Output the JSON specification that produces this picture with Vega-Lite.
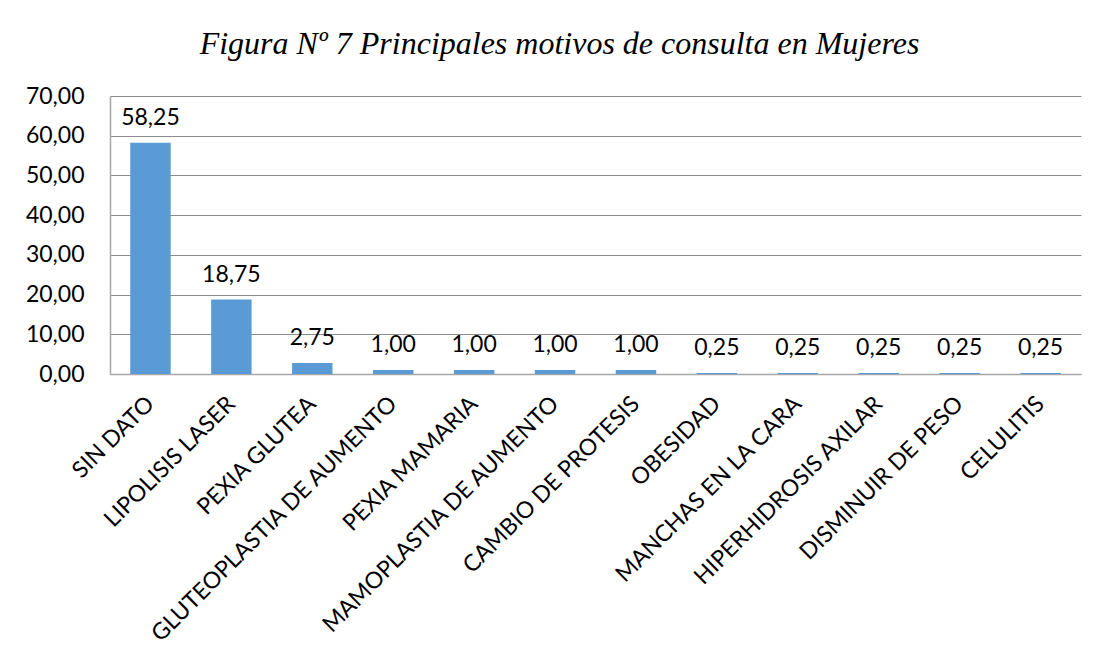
{
  "$schema": "https://vega.github.io/schema/vega-lite/v6.json",
  "width": 971,
  "height": 278,
  "autosize": {"type": "none"},
  "padding": {"left": 110, "top": 96, "right": 20, "bottom": 290},
  "background": "white",
  "config": {
    "view": {"stroke": null},
    "locale": {"number": {"decimal": ",", "thousands": ".", "grouping": [3], "currency": ["", "€"]}}
  },
  "title": {
    "text": "Figura Nº 7 Principales motivos de consulta en Mujeres",
    "font": "Liberation Serif",
    "fontStyle": "italic",
    "fontWeight": "normal",
    "fontSize": 32,
    "color": "#000000",
    "anchor": "middle",
    "dx": -36,
    "offset": 24
  },
  "data": {
    "values": [
      {"motivo": "SIN DATO", "valor": 58.25},
      {"motivo": "LIPOLISIS LASER", "valor": 18.75},
      {"motivo": "PEXIA GLUTEA", "valor": 2.75},
      {"motivo": "GLUTEOPLASTIA DE AUMENTO", "valor": 1.0},
      {"motivo": "PEXIA MAMARIA", "valor": 1.0},
      {"motivo": "MAMOPLASTIA DE AUMENTO", "valor": 1.0},
      {"motivo": "CAMBIO DE PROTESIS", "valor": 1.0},
      {"motivo": "OBESIDAD", "valor": 0.25},
      {"motivo": "MANCHAS EN LA CARA", "valor": 0.25},
      {"motivo": "HIPERHIDROSIS AXILAR", "valor": 0.25},
      {"motivo": "DISMINUIR DE PESO", "valor": 0.25},
      {"motivo": "CELULITIS", "valor": 0.25}
    ]
  },
  "encoding": {
    "x": {
      "field": "motivo",
      "type": "nominal",
      "sort": null,
      "scale": {"paddingInner": 0.5, "paddingOuter": 0.25},
      "axis": {
        "title": null,
        "labelAngle": -45,
        "labelAlign": "right",
        "labelBaseline": "middle",
        "labelFont": "Lato",
        "labelFontSize": 23,
        "labelColor": "#000000",
        "labelPadding": 26,
        "labelLimit": 400,
        "ticks": false,
        "domainColor": "#A6A6A6",
        "domainWidth": 1.5,
        "grid": false
      }
    },
    "y": {
      "field": "valor",
      "type": "quantitative",
      "scale": {"domain": [0, 70], "nice": false},
      "axis": {
        "title": null,
        "values": [0, 10, 20, 30, 40, 50, 60, 70],
        "format": ".2f",
        "labelFont": "Lato",
        "labelFontSize": 23,
        "labelColor": "#000000",
        "labelPadding": 26,
        "ticks": false,
        "domainColor": "#A6A6A6",
        "domainWidth": 1.5,
        "gridColor": "#8C8C8C",
        "gridWidth": 1
      }
    }
  },
  "layer": [
    {"mark": {"type": "bar", "color": "#5B9BD5"}},
    {
      "mark": {"type": "text", "font": "Lato", "fontSize": 23, "color": "#000000", "baseline": "alphabetic", "dy": -18},
      "encoding": {"text": {"field": "valor", "type": "quantitative", "format": ".2f"}}
    }
  ]
}
